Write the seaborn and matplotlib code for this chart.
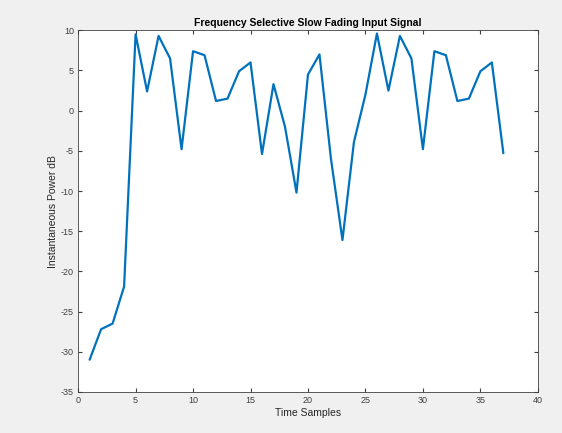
import matplotlib
matplotlib.use("Agg")
import matplotlib.pyplot as plt
import pandas as pd
import seaborn as sns

# samples
time_samples = list(range(1, 38))
power_db = [-31.0, -27.2, -26.5, -21.9, 9.5, 2.4, 9.3, 6.5, -4.8, 7.4,
            6.9, 1.2, 1.5, 4.9, 6.0, -5.4, 3.3, -2.0, -10.2, 4.5,
            7.0, -6.0, -16.1, -3.9, 2.0, 9.6, 2.5, 9.3, 6.5, -4.8,
            7.4, 6.9, 1.2, 1.5, 4.9, 6.0, -5.3]

df = pd.DataFrame({"t": time_samples, "p": power_db})

sns.set_style("white")
plt.rcParams["font.family"] = ["Liberation Sans", "DejaVu Sans"]
plt.rcParams["axes.unicode_minus"] = False

fig = plt.figure(figsize=(5.62, 4.33), dpi=100, facecolor="#f0f0f0")
ax = fig.add_axes([0.139, 0.095, 0.818, 0.835])
ax.set_facecolor("white")

sns.lineplot(data=df, x="t", y="p", ax=ax, color="#0072BD", linewidth=1.6)

ax.set_xlim(0, 40)
ax.set_ylim(-35, 10)
ax.set_xticks(range(0, 41, 5))
ax.set_yticks(range(-35, 11, 5))
ax.tick_params(direction="in", length=3, labelsize=6.5, colors="#404040",
               top=True, right=True, bottom=True, left=True, pad=3)
ax.tick_params(labeltop=False, labelright=False)
for s in ax.spines.values():
    s.set_color("#404040")
    s.set_linewidth(0.6)

ax.set_xlabel("Time Samples", fontsize=7.5, color="#262626", labelpad=2)
ax.set_ylabel("Instantaneous Power dB", fontsize=7.5, color="#262626", labelpad=2)
ax.set_title("Frequency Selective Slow Fading Input Signal", fontsize=7.5,
             fontweight="bold", color="black", pad=3)

fig.savefig("out.png", dpi=100, facecolor=fig.get_facecolor())
